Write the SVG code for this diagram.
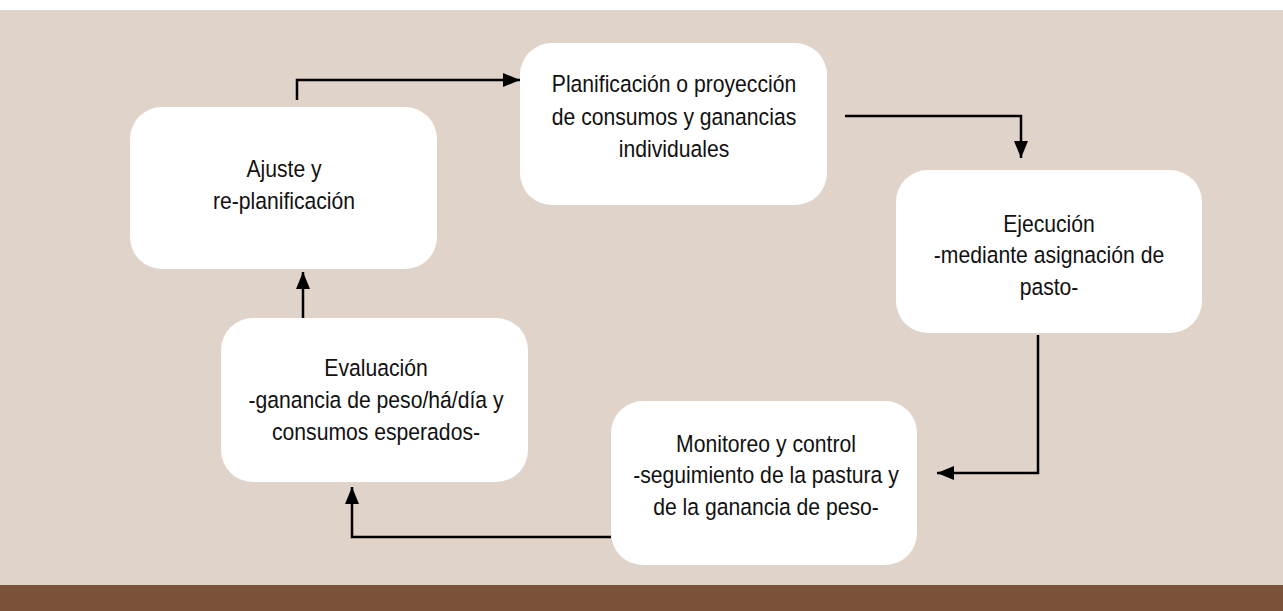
<svg xmlns="http://www.w3.org/2000/svg" width="1283" height="611" viewBox="0 0 1283 611">
<style>
.box{fill:#ffffff;}
.lbl{font-family:"Liberation Sans",Arial,sans-serif;font-size:23.5px;fill:#111111;text-anchor:middle;}
.con{fill:none;stroke:#000000;stroke-width:2.5;marker-end:url(#arr);}
</style>
<defs>
<marker id="arr" markerUnits="userSpaceOnUse" markerWidth="18" markerHeight="15" refX="17" refY="7.5" orient="auto">
<path d="M0,0.5 L17,7.5 L0,14.5 Z" fill="#000000"/>
</marker>
</defs>
<rect x="0" y="0" width="1283" height="611" fill="#ffffff"/>
<rect x="0" y="10" width="1283" height="575" fill="#E0D3CA"/>
<rect x="0" y="585" width="1283" height="26" fill="#7B5239"/>

<g id="connectors">
<path class="con" d="M297,100 V80 H520"/>
<path class="con" d="M845,116 H1021 V158"/>
<path class="con" d="M1038,335 V473 H937"/>
<path class="con" d="M611,537 H352 V487"/>
<path class="con" d="M303,318 V272"/>
</g>

<g id="ajuste">
<rect class="box" x="130" y="107" width="307" height="162" rx="32"/>
<text class="lbl" transform="translate(284,177) scale(0.9,1)">Ajuste y</text>
<text class="lbl" transform="translate(284,209) scale(0.9,1)">re-planificación</text>
</g>

<g id="planificacion">
<rect class="box" x="520" y="43" width="307" height="162" rx="32"/>
<text class="lbl" transform="translate(674,92) scale(0.9,1)">Planificación o proyección</text>
<text class="lbl" transform="translate(674,125) scale(0.9,1)">de consumos y ganancias</text>
<text class="lbl" transform="translate(674,157) scale(0.9,1)">individuales</text>
</g>

<g id="ejecucion">
<rect class="box" x="896" y="170" width="306" height="163" rx="32"/>
<text class="lbl" transform="translate(1049,232) scale(0.9,1)">Ejecución</text>
<text class="lbl" transform="translate(1049,263) scale(0.9,1)">-mediante asignación de</text>
<text class="lbl" transform="translate(1049,295) scale(0.9,1)">pasto-</text>
</g>

<g id="evaluacion">
<rect class="box" x="221" y="318" width="307" height="164" rx="32"/>
<text class="lbl" transform="translate(376,376) scale(0.9,1)">Evaluación</text>
<text class="lbl" transform="translate(376,408) scale(0.9,1)">-ganancia de peso/há/día y</text>
<text class="lbl" transform="translate(376,440) scale(0.9,1)">consumos esperados-</text>
</g>

<g id="monitoreo">
<rect class="box" x="611" y="401" width="306" height="164" rx="32"/>
<text class="lbl" transform="translate(766,452) scale(0.9,1)">Monitoreo y control</text>
<text class="lbl" transform="translate(766,483) scale(0.9,1)">-seguimiento de la pastura y</text>
<text class="lbl" transform="translate(766,515) scale(0.9,1)">de la ganancia de peso-</text>
</g>
</svg>
